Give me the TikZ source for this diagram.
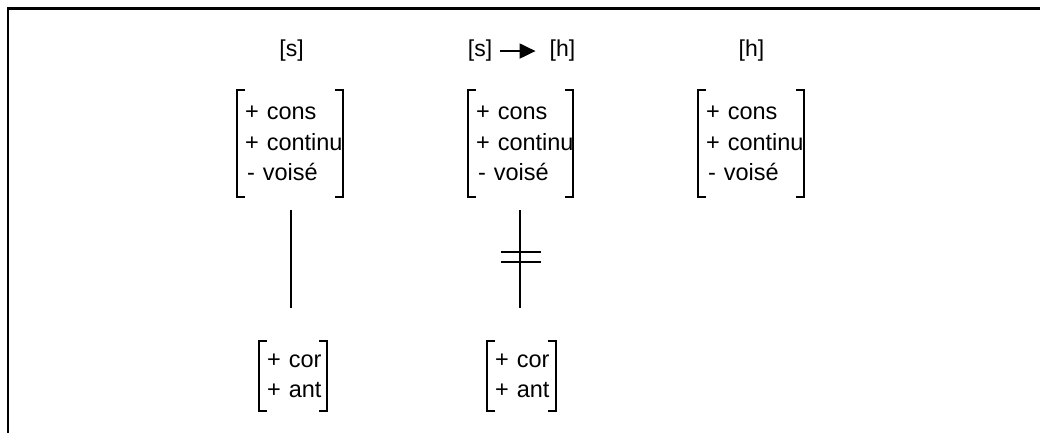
\documentclass[tikz,border=0pt]{standalone}
\usepackage{fontspec}
\setmainfont{Liberation Sans}
\usetikzlibrary{arrows.meta}
\newcommand\featbrackets[1]{%
  \draw[brk] ([xshift=8pt]#1.north west) -- (#1.north west) -- (#1.south west) -- ([xshift=8pt]#1.south west);
  \draw[brk] ([xshift=-8pt]#1.north east) -- (#1.north east) -- (#1.south east) -- ([xshift=-8pt]#1.south east);}
\begin{document}
\begin{tikzpicture}[x=1pt,y=-1pt,
  hdr/.style={inner sep=0pt, anchor=base, font=\fontsize{23}{30}\selectfont},
  feat/.style={inner sep=0pt, anchor=base west, text width=120pt, align=left, font=\fontsize{23.5}{30}\selectfont},
  frm/.style={draw=none, inner sep=0pt, minimum width=#1},
  brk/.style={line width=2pt},
  conn/.style={line width=2pt}]
\useasboundingbox (0,0) rectangle (1040,433);
\draw[line width=2.2pt] (8,433) -- (8,8.5) -- (1040,8.5);
% headers
\node[hdr] (H1) at (291.5,57) {[s]};
\node[hdr] (H2a) at (480,57) {[s]};
\node[hdr] (H2b) at (562.5,57) {[h]};
\node[hdr] (H3) at (751.5,57) {[h]};
\draw[conn, -{Triangle[length=16pt,width=15pt]}, shorten <=8pt, shorten >=14pt] (H2a) -- (H2b);
% feature matrix frames
\node[frm=105.5pt, minimum height=107pt] (F1) at (289.75,143.5) {};
\node[frm=105.5pt, minimum height=107pt] (F2) at (520.5,143.5) {};
\node[frm=105.5pt, minimum height=107pt] (F3) at (751,143.5) {};
\node[frm=68pt, minimum height=69.5pt] (G1) at (293,375.75) {};
\node[frm=68.5pt, minimum height=69.5pt] (G2) at (521.25,375.75) {};
\featbrackets{F1}\featbrackets{F2}\featbrackets{F3}\featbrackets{G1}\featbrackets{G2}
% texts
\node[feat] (T1) at (245,120) {+ cons\\+ continu\\\hspace*{2pt}- voisé};
\node[feat] (T2) at (476,120) {+ cons\\+ continu\\\hspace*{2pt}- voisé};
\node[feat] (T3) at (706,120) {+ cons\\+ continu\\\hspace*{2pt}- voisé};
\node[feat] (B1) at (267,367) {+ cor\\+ ant};
\node[feat] (B2) at (495,367) {+ cor\\+ ant};
% association lines
\draw[conn, shorten <=13pt, shorten >=33pt] ([xshift=0.75pt]F1.south) -- ([xshift=0.75pt]F1.south |- G1.north);
\draw[conn, shorten <=13pt, shorten >=33pt] ([xshift=-0.5pt]F2.south) -- ([xshift=-0.5pt]F2.south |- G2.north);
\draw[conn] (501,251.5) -- (541,251.5);
\draw[conn] (501,261.5) -- (541,261.5);
\end{tikzpicture}
\end{document}
